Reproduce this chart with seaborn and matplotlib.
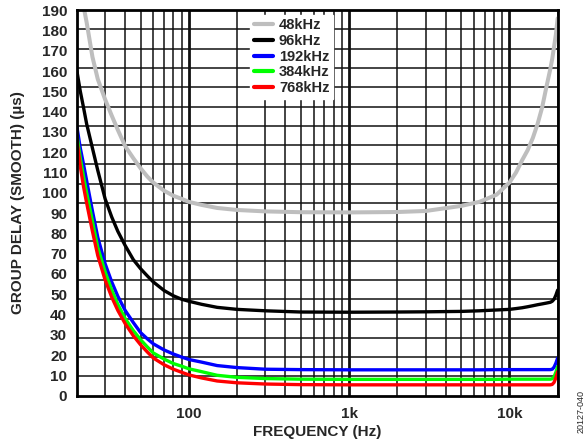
import numpy as np
import pandas as pd
import seaborn as sns
import matplotlib.pyplot as plt
from matplotlib.ticker import FixedLocator, FuncFormatter, NullFormatter

# frequency points (Hz)
freq = [20, 21, 22, 23, 25, 27, 30, 33, 36, 40,
        45, 50, 55, 60, 70, 80, 90, 100, 120, 150,
        200, 300, 500, 1000, 2000, 3000, 5000, 6500, 8300, 10000,
        11000, 12000, 13000, 14000, 15000, 16000, 17000, 18000, 18500, 19000,
        19500, 20000]

# group delay (us) per output data rate
delay_48k = [210, 200, 192, 184, 167, 156, 146, 138, 131, 123,
             117, 112, 108, 105, 101, 98.5, 97, 95.5, 94, 92.5,
             91.5, 90.8, 90.4, 90.3, 90.5, 91, 93.5, 95.5, 99, 105,
             110, 116, 121, 127, 134, 142, 152, 161, 166, 172,
             178, 186]
delay_96k = [160, 150, 142, 134, 122, 111, 97, 88, 81, 74,
             67, 62.5, 59, 56, 51.8, 49.2, 47.5, 46.5, 45, 43.5,
             42.5, 41.8, 41.2, 41.1, 41.2, 41.3, 41.5, 41.8, 42.2, 42.5,
             42.9, 43.3, 43.8, 44.3, 44.8, 45.2, 45.6, 46, 46.5, 47.5,
             49.5, 52]
delay_192k = [132.5, 122, 114, 106, 91, 78, 65, 56, 49, 42,
              36, 31, 28, 25.5, 22.5, 20.5, 19, 17.8, 16.5, 14.8,
              13.8, 13, 12.8, 12.7, 12.7, 12.7, 12.7, 12.7, 12.8, 12.8,
              12.8, 12.8, 12.8, 12.8, 12.8, 12.8, 12.8, 12.8, 13, 14,
              16, 18.5]
delay_384k = [128.5, 117, 108, 100, 86, 73, 61, 52, 45, 38,
              32, 27.5, 24, 21, 18, 15.8, 14.5, 13.2, 11.8, 10,
              9, 8.4, 8.1, 8, 8, 8, 8, 8, 8, 8.1,
              8.1, 8.1, 8.1, 8.1, 8.1, 8.1, 8.1, 8.1, 8.3, 9.3,
              11.5, 14.3]
delay_768k = [126, 113, 103, 95, 81, 69, 57, 48.5, 42, 35.5,
              29.5, 25, 21.5, 18.5, 15.2, 13, 11.5, 10.2, 8.7, 7.2,
              6.3, 5.7, 5.4, 5.3, 5.3, 5.3, 5.3, 5.3, 5.3, 5.3,
              5.3, 5.3, 5.3, 5.3, 5.3, 5.3, 5.3, 5.3, 5.5, 6.5,
              8.8, 11.8]

rates = ["48kHz", "96kHz", "192kHz", "384kHz", "768kHz"]
colors = ["#BEBEBE", "#000000", "#0000FF", "#00FF00", "#FF0000"]
series = [delay_48k, delay_96k, delay_192k, delay_384k, delay_768k]

df = pd.concat([pd.DataFrame({"freq": freq, "delay": d, "rate": r})
                for r, d in zip(rates, series)], ignore_index=True)

sns.set_style("white")
plt.rcParams["font.family"] = ["Liberation Sans", "DejaVu Sans"]
plt.rcParams["font.weight"] = "bold"

fig = plt.figure(figsize=(5.87, 4.42), dpi=100)
ax = fig.add_axes([0.131, 0.105, 0.819, 0.872])

sns.lineplot(data=df, x="freq", y="delay", hue="rate", hue_order=rates,
             palette=colors, linewidth=2.4, ax=ax, zorder=3)
for line in ax.get_lines():
    if line.get_color().upper() == "#BEBEBE":
        line.set_linewidth(2.9)

ax.set_xscale("log")
ax.set_xlim(20, 20000)
ax.set_ylim(0, 190)

ax.xaxis.set_major_locator(FixedLocator([100, 1000, 10000]))
ax.xaxis.set_major_formatter(FuncFormatter(lambda v, p: {100: "100", 1000: "1k", 10000: "10k"}.get(int(round(v)), "")))
minor_x = [m * 10 ** e for e in range(1, 5) for m in range(2, 10) if 20 <= m * 10 ** e <= 20000]
ax.xaxis.set_minor_locator(FixedLocator(minor_x))
ax.xaxis.set_minor_formatter(NullFormatter())

ax.yaxis.set_major_locator(FixedLocator(np.arange(0, 191, 10)))
# horizontal grid in the source has 20 divisions, not aligned to the labels
ax.yaxis.set_minor_locator(FixedLocator(np.linspace(0, 190, 21)))
ax.yaxis.set_minor_formatter(NullFormatter())

ax.grid(False)
ax.set_axisbelow(True)
ax.grid(True, which="major", axis="x", color="#111111", linewidth=2.0)
ax.grid(True, which="minor", axis="x", color="#111111", linewidth=1.1)
ax.grid(True, which="minor", axis="y", color="#111111", linewidth=1.1)

ax.tick_params(which="both", length=0, labelsize=11)
ax.tick_params(axis="y", pad=7)
ax.tick_params(axis="x", pad=8)
for lab in ax.get_xticklabels() + ax.get_yticklabels():
    lab.set_fontweight("bold")

ax.set_xlabel("FREQUENCY (Hz)", fontsize=11, fontweight="bold", labelpad=3)
ax.set_ylabel("GROUP DELAY (SMOOTH) (µs)", fontsize=11, fontweight="bold", labelpad=12)

for sp in ax.spines.values():
    sp.set_visible(True)
    sp.set_color("black")
    sp.set_linewidth(2.0)
    sp.set_zorder(4)

leg = ax.legend(loc="upper left", bbox_to_anchor=(0.352, 1.0), frameon=True,
                fontsize=10.5, handlelength=1.3, handletextpad=0.4,
                labelspacing=0.12, borderpad=0.25, borderaxespad=0.3)
leg.get_frame().set_edgecolor("white")
leg.get_frame().set_facecolor("white")
leg.get_frame().set_alpha(1.0)
leg.get_frame().set_boxstyle("square", pad=0)
leg.set_zorder(5)
for t in leg.get_texts():
    t.set_fontweight("bold")
for h in leg.get_lines():
    h.set_linewidth(3.0)

fig.text(0.990, 0.068, "20127-040", rotation=90, fontsize=6.5, fontweight="normal",
         ha="center", va="center")

fig.savefig("out.png", dpi=100)
